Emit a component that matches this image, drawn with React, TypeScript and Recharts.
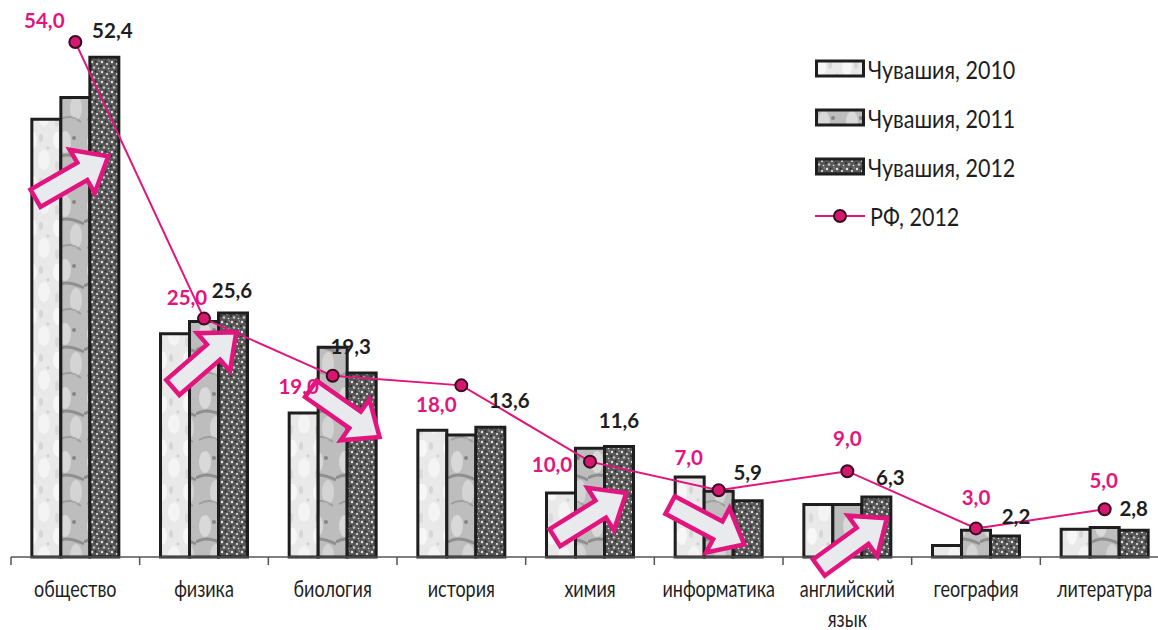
import React from 'react';
import { ComposedChart, Bar, Line, XAxis, YAxis, Legend, LabelList } from 'recharts';

const categories = [
  'общество',
  'физика',
  'биология',
  'история',
  'химия',
  'информатика',
  'английский язык',
  'география',
  'литература',
];
const chuv2010 = [45.9, 23.4, 15.1, 13.3, 6.7, 8.4, 5.5, 1.2, 2.9];
const chuv2011 = [48.2, 24.7, 22.0, 12.8, 11.4, 6.9, 5.5, 2.8, 3.1];
const chuv2012 = [52.4, 25.6, 19.3, 13.6, 11.6, 5.9, 6.3, 2.2, 2.8];
const rf2012 = [54.0, 25.0, 19.0, 18.0, 10.0, 7.0, 9.0, 3.0, 5.0];

// label nudges (px), the original labels were placed by hand
const rfLabelShift = [[-31, -22], [-17, -22], [-34, 10], [-25, 19], [-38, 2], [-30, -33], [0, -33], [0, -31], [-1, -29]];
const chuvLabelShift = [[8, -27], [-1, -23], [-11, -27], [19, -27], [0, -26], [0, -29], [14, -20], [11, -20], [0, -22]];
// decorative trend arrows: angle in degrees, shift from the 2012 bar's top-left corner
const arrows: ([number, number, number] | null)[] = [
  [-30, -18, 120],
  [-41, -14, 47],
  [35, -2, 40],
  null,
  [-32, -14, 69],
  [28, -26, 24],
  [-36, -9, 46],
  null,
  null,
];

const W = 1170;
const H = 630;
const M = { top: 23, right: 1, bottom: 0, left: 11 };
const X_AXIS_H = 73;
const BASE_Y = H - M.bottom - X_AXIS_H;
const BAND = (W - M.left - M.right) / categories.length;

const PINK = '#e2147d';
const INK = '#1e1e1e';
const FONT = "Lato, 'Open Sans', sans-serif";

const data = categories.map((name, i) => ({
  name,
  c2010: chuv2010[i],
  c2011: chuv2011[i],
  c2012: chuv2012[i],
  rf: rf2012[i],
}));

const fmt = (v: number) => v.toFixed(1).replace('.', ',');

function Patterns() {
  return (
    <svg width={0} height={0} style={{ position: 'absolute' }}>
      <defs>
        <pattern id="p2010" width={26} height={44} patternUnits="userSpaceOnUse">
          <rect width={26} height={44} fill="#e9e9e9" />
          <ellipse cx={6} cy={8} rx={5} ry={9} fill="#f7f7f7" />
          <ellipse cx={18} cy={28} rx={6} ry={10} fill="#f4f4f4" />
          <ellipse cx={15} cy={6} rx={2} ry={4} fill="#d6d6d6" />
          <ellipse cx={5} cy={34} rx={2} ry={5} fill="#dadada" />
          <circle cx={22} cy={16} r={1.4} fill="#cfcfcf" />
        </pattern>
        <pattern id="p2011" width={28} height={64} patternUnits="userSpaceOnUse">
          <rect width={28} height={64} fill="#bdbdbd" />
          <ellipse cx={9} cy={14} rx={6} ry={11} fill="#d9d9d9" />
          <ellipse cx={20} cy={44} rx={6} ry={12} fill="#d4d4d4" />
          <path d="M0 30 Q10 23 28 32" stroke="#707070" strokeWidth={3} fill="none" opacity={0.6} />
          <path d="M3 56 Q14 49 25 58" stroke="#808080" strokeWidth={2} fill="none" opacity={0.5} />
          <circle cx={18} cy={10} r={2} fill="#4a4a4a" opacity={0.5} />
        </pattern>
        <pattern id="p2012" width={10} height={10} patternUnits="userSpaceOnUse">
          <rect width={10} height={10} fill="#575757" />
          <circle cx={2} cy={2} r={1.2} fill="#e6e6e6" />
          <circle cx={7} cy={4} r={1} fill="#f2f2f2" />
          <circle cx={4} cy={7.5} r={1.3} fill="#c4c4c4" />
          <circle cx={8.5} cy={8.5} r={0.8} fill="#ececec" />
          <circle cx={1} cy={6} r={0.9} fill="#222" />
          <circle cx={5.5} cy={1.5} r={0.9} fill="#262626" />
          <circle cx={9.2} cy={1} r={0.7} fill="#b0b0b0" />
        </pattern>
      </defs>
    </svg>
  );
}

function CategoryTick(props: any) {
  const { x, payload, index } = props;
  const words = String(payload.value).split(' ');
  const left = x - BAND / 2;
  return (
    <g>
      <line x1={left} y1={BASE_Y} x2={left} y2={BASE_Y + 8} stroke="#555" strokeWidth={1.5} />
      {index === categories.length - 1 && (
        <line x1={left + BAND} y1={BASE_Y} x2={left + BAND} y2={BASE_Y + 8} stroke="#555" strokeWidth={1.5} />
      )}
      <text transform={`translate(${x},${BASE_Y + 40}) scale(0.8,1)`} textAnchor="middle" fill={INK}
        fontSize={22.5} fontFamily={FONT}>
        {words.map((w, i) => (
          <tspan key={i} x={0} dy={i === 0 ? 0 : 30}>
            {w}
          </tspan>
        ))}
      </text>
    </g>
  );
}

function RfLabel(props: any) {
  const { x, y, value, index } = props;
  const [dx, dy] = rfLabelShift[index] || [0, -25];
  return (
    <text x={x + dx} y={y + dy} textAnchor="middle" dominantBaseline="central" fill={PINK}
      fontSize={20.5} fontWeight={700} fontFamily={FONT}>
      {fmt(value)}
    </text>
  );
}

function ChuvLabel(props: any) {
  const { x, y, width, value, index } = props;
  const [dx, dy] = chuvLabelShift[index] || [0, -25];
  return (
    <text x={x + width / 2 + dx} y={y + dy} textAnchor="middle" dominantBaseline="central" fill={INK}
      fontSize={20.5} fontWeight={700} fontFamily={FONT}>
      {fmt(value)}
    </text>
  );
}

function TrendArrow(props: any) {
  const { x, y, index } = props;
  const a = arrows[index];
  if (!a) return null;
  const [angle, dx, dy] = a;
  const pts = '-42,-10 12,-10 12,-25 42,0 12,25 12,10 -42,10';
  return (
    <polygon points={pts} transform={`translate(${x + dx},${y + dy}) rotate(${angle})`}
      fill="#e9eaee" stroke={PINK} strokeWidth={4.5} strokeLinejoin="miter" />
  );
}

const legendItems = [
  { label: 'Чувашия, 2010', fill: 'url(#p2010)' },
  { label: 'Чувашия, 2011', fill: 'url(#p2011)' },
  { label: 'Чувашия, 2012', fill: 'url(#p2012)' },
  { label: 'РФ, 2012', fill: null },
];

function LegendBox() {
  return (
    <div style={{ fontFamily: FONT, fontSize: 25, color: INK }}>
      {legendItems.map((it, i) => (
        <div key={i} style={{ display: 'flex', alignItems: 'center', height: 30, marginBottom: 19 }}>
          <svg width={50} height={20} style={{ marginRight: 3, flex: 'none' }}>
            {it.fill ? (
              <rect x={1.5} y={2} width={47} height={15} fill={it.fill} stroke={INK} strokeWidth={3} />
            ) : (
              <g>
                <line x1={0} y1={10} x2={50} y2={10} stroke={PINK} strokeWidth={2} />
                <circle cx={25} cy={10} r={6} fill="#d4176f" stroke="#3a0a1e" strokeWidth={2} />
              </g>
            )}
          </svg>
          <span style={{ display: 'inline-block', transform: 'scaleX(0.86)', transformOrigin: 'left center', whiteSpace: 'nowrap', marginLeft: it.fill ? 0 : 2 }}>
            {it.label}
          </span>
        </div>
      ))}
    </div>
  );
}

export default function App() {
  return (
    <div style={{ position: 'absolute', left: 0, top: 0, width: 1158, height: 630, overflow: 'hidden', background: '#fff' }}>
      <Patterns />
      <ComposedChart width={W} height={H} data={data} margin={M} barCategoryGap="16.2%" barGap={0}>
        <XAxis dataKey="name" interval={0} height={X_AXIS_H} axisLine={{ stroke: '#555', strokeWidth: 1.5 }}
          tickLine={false} tick={<CategoryTick />} />
        <YAxis hide domain={[0, 56]} />
        <Legend layout="horizontal" verticalAlign="middle" align="center" content={<LegendBox />}
          wrapperStyle={{ position: 'absolute', top: 54, left: 815, width: 320, height: 200 }} />
        <Bar dataKey="c2010" name="Чувашия, 2010" fill="url(#p2010)" stroke={INK} strokeWidth={3} isAnimationActive={false} />
        <Bar dataKey="c2011" name="Чувашия, 2011" fill="url(#p2011)" stroke={INK} strokeWidth={3} isAnimationActive={false} />
        <Bar dataKey="c2012" name="Чувашия, 2012" fill="url(#p2012)" stroke={INK} strokeWidth={3} isAnimationActive={false}>
          <LabelList dataKey="c2012" content={<TrendArrow />} />
          <LabelList dataKey="c2012" content={<ChuvLabel />} />
        </Bar>
        <Line type="linear" dataKey="rf" name="РФ, 2012" stroke={PINK} strokeWidth={2}
          dot={{ r: 6, fill: '#d4176f', stroke: '#3a0a1e', strokeWidth: 2 }} isAnimationActive={false}>
          <LabelList dataKey="rf" content={<RfLabel />} />
        </Line>
      </ComposedChart>
    </div>
  );
}
